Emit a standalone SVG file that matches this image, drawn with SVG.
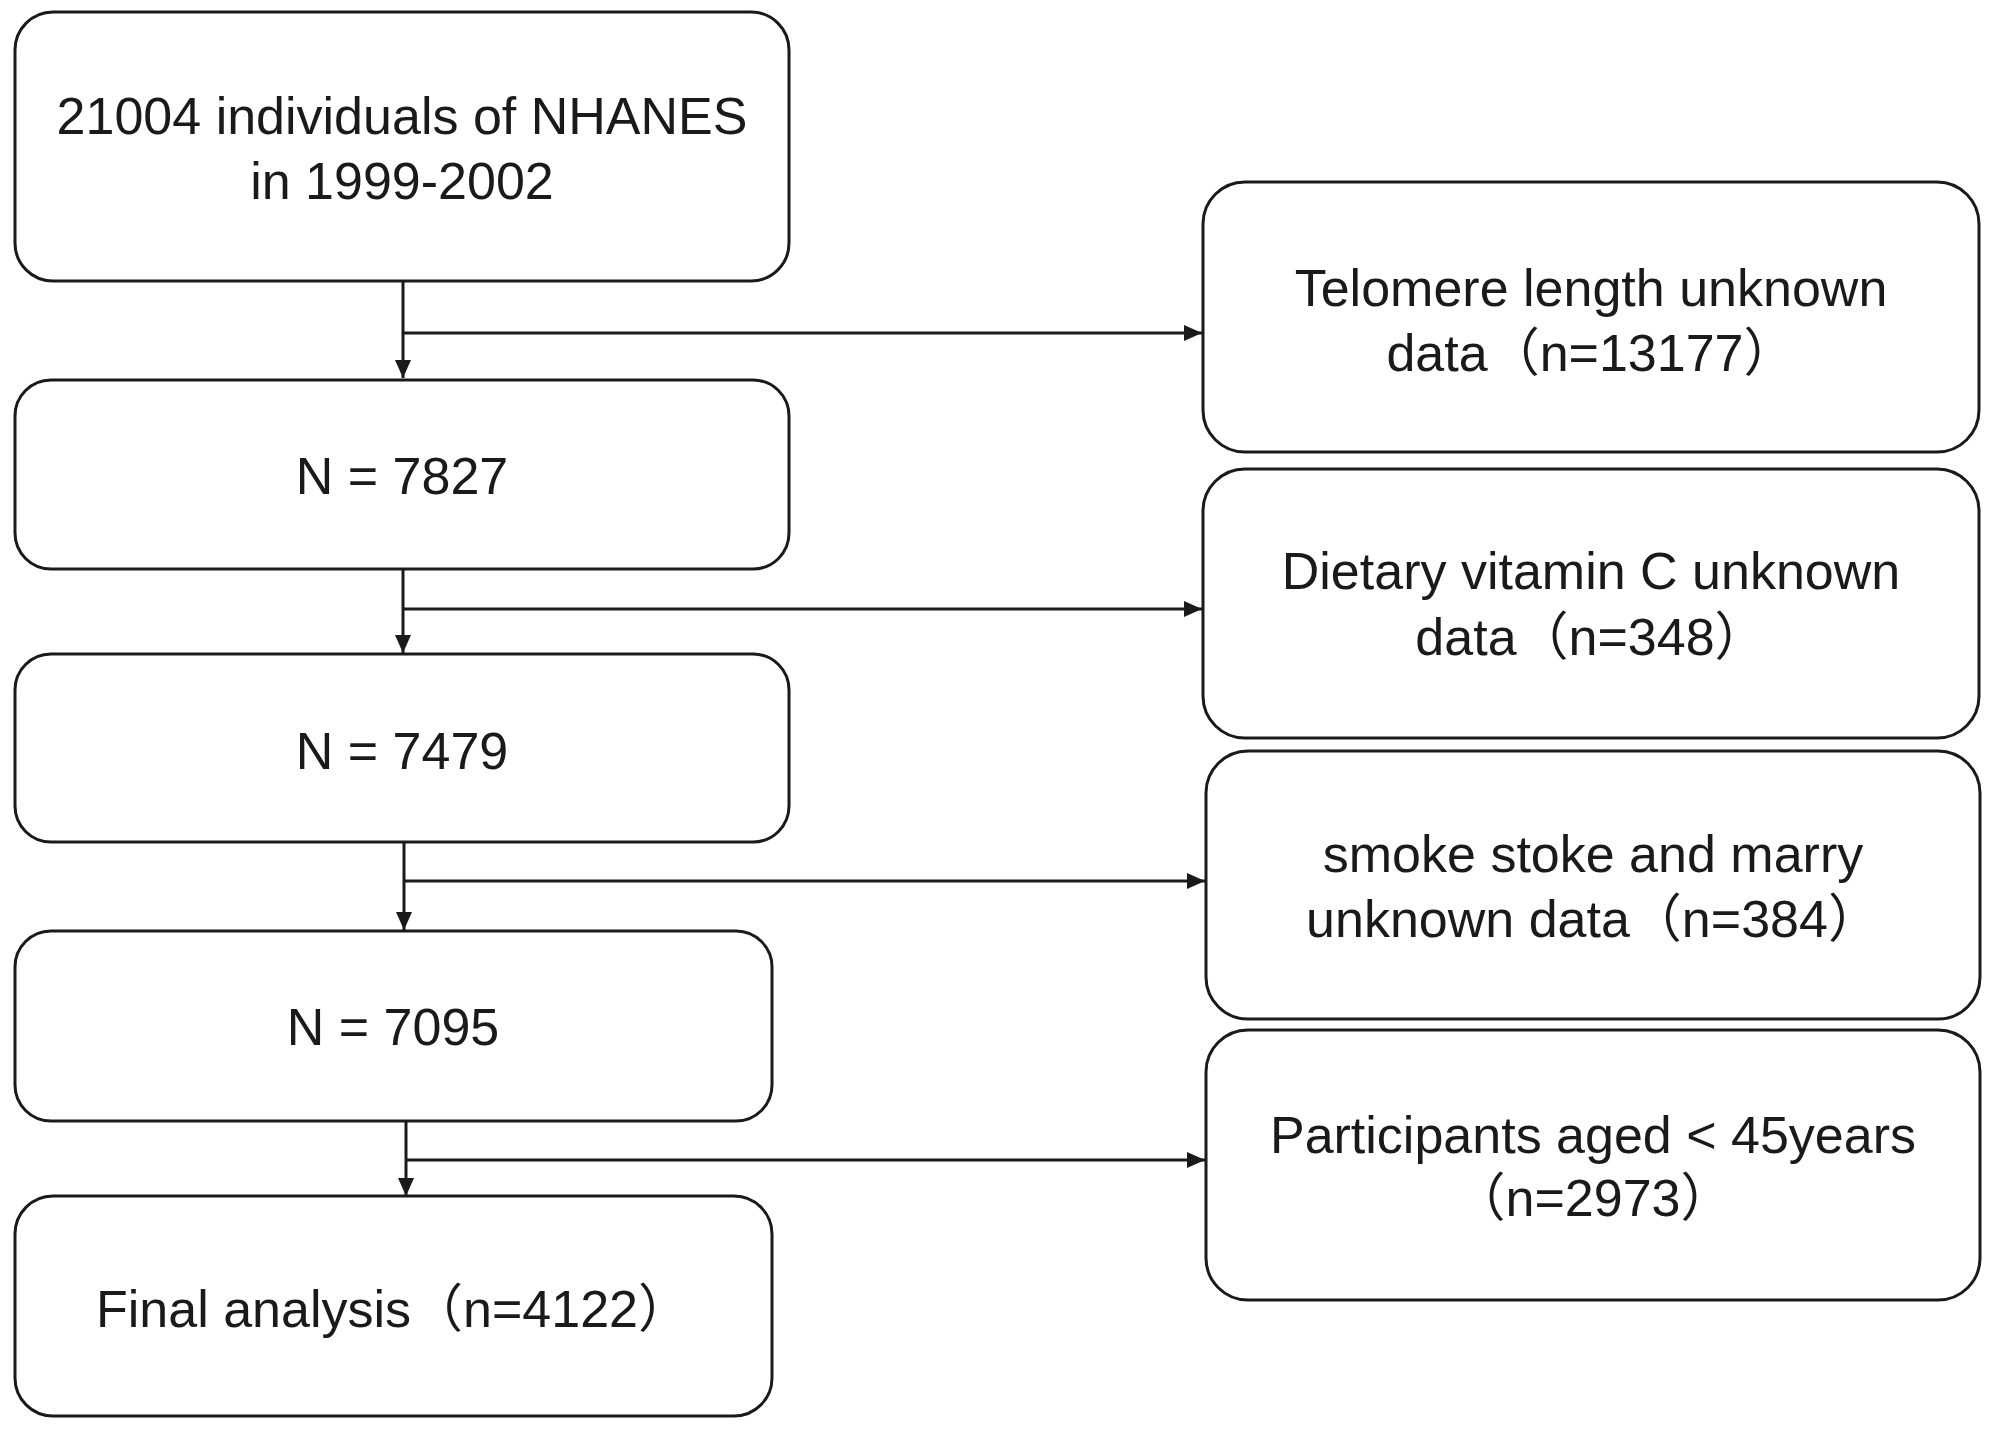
<svg xmlns="http://www.w3.org/2000/svg" width="1995" height="1429" viewBox="0 0 1995 1429">
<style>
.box{fill:#ffffff;stroke:#1a1a1a;stroke-width:3}
.lbl{font-family:"Liberation Sans","Noto Sans CJK SC",sans-serif;font-size:52px;fill:#1a1a1a;text-anchor:middle}
.con{fill:none;stroke:#1a1a1a;stroke-width:3}
</style>
<defs>
<marker id="ah" markerUnits="userSpaceOnUse" markerWidth="18" markerHeight="16" refX="18" refY="8" orient="auto">
<path d="M0,0 L18,8 L0,16 Z" fill="#1a1a1a"/>
</marker>
</defs>
<rect width="1995" height="1429" fill="#ffffff"/>
<g id="connectors">
<path class="con" d="M403,281 V378" marker-end="url(#ah)"/>
<path class="con" d="M403,333 H1202" marker-end="url(#ah)"/>
<path class="con" d="M403,569 V653" marker-end="url(#ah)"/>
<path class="con" d="M403,609 H1202" marker-end="url(#ah)"/>
<path class="con" d="M404,842 V930" marker-end="url(#ah)"/>
<path class="con" d="M404,881 H1205" marker-end="url(#ah)"/>
<path class="con" d="M406,1121 V1196" marker-end="url(#ah)"/>
<path class="con" d="M406,1160 H1205" marker-end="url(#ah)"/>
</g>
<g id="n-start">
<rect class="box" x="15" y="12" width="774" height="269" rx="38"/>
<text class="lbl" x="402" y="134">21004 individuals of NHANES</text>
<text class="lbl" x="402" y="199">in 1999-2002</text>
</g>
<g id="n-7827">
<rect class="box" x="15" y="380" width="774" height="189" rx="36"/>
<text class="lbl" x="402" y="494">N = 7827</text>
</g>
<g id="n-7479">
<rect class="box" x="15" y="654" width="774" height="188" rx="36"/>
<text class="lbl" x="402" y="769">N = 7479</text>
</g>
<g id="n-7095">
<rect class="box" x="15" y="931" width="757" height="190" rx="36"/>
<text class="lbl" x="393" y="1045">N = 7095</text>
</g>
<g id="n-final">
<rect class="box" x="15" y="1196" width="757" height="220" rx="38"/>
<text class="lbl" x="393" y="1327">Final analysis（n=4122）</text>
</g>
<g id="x-telomere">
<rect class="box" x="1203" y="182" width="776" height="270" rx="42"/>
<text class="lbl" x="1591" y="306">Telomere length unknown</text>
<text class="lbl" x="1591" y="371">data（n=13177）</text>
</g>
<g id="x-vitc">
<rect class="box" x="1203" y="469" width="776" height="269" rx="42"/>
<text class="lbl" x="1591" y="589">Dietary vitamin C unknown</text>
<text class="lbl" x="1591" y="655">data（n=348）</text>
</g>
<g id="x-smoke">
<rect class="box" x="1206" y="751" width="774" height="268" rx="42"/>
<text class="lbl" x="1593" y="872">smoke stoke and marry</text>
<text class="lbl" x="1593" y="937">unknown data（n=384）</text>
</g>
<g id="x-age">
<rect class="box" x="1206" y="1030" width="774" height="270" rx="42"/>
<text class="lbl" x="1593" y="1153">Participants aged &lt; 45years</text>
<text class="lbl" x="1593" y="1216">（n=2973）</text>
</g>
</svg>
